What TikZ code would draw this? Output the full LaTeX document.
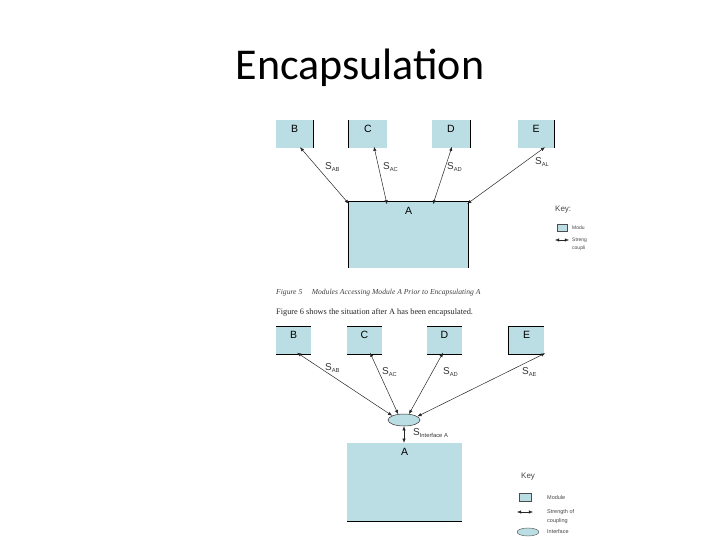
\documentclass[tikz,border=0pt]{standalone}
\usepackage{fontspec}
\setmainfont{Liberation Sans}
\newfontfamily\titlefont{Carlito}
\newfontfamily\capfont{Liberation Serif}
\usetikzlibrary{arrows.meta,shapes.geometric}
\definecolor{modfill}{RGB}{186,222,227}
\definecolor{keygray}{RGB}{70,70,70}
\newcommand\Ssub[1]{S\raisebox{-1.1pt}{\fontsize{5.8}{6}\selectfont #1}}
\tikzset{
  modbox/.style={rectangle,fill=modfill,inner sep=0pt},
  boxtxt/.style={below,inner sep=0pt,yshift=-5pt,font=\fontsize{10.5}{12}\selectfont},
  edge/.style={line width=0.8pt,black},
  couple/.style={{Latex[length=4.2pt,width=3.4pt]}-{Latex[length=4.2pt,width=3.4pt]},line width=0.5pt,draw=black!85},
  slabel/.style={anchor=west,inner sep=0pt,font=\fontsize{10}{11}\selectfont,text=black!80},
  keytxt/.style={anchor=west,inner sep=0pt,text=keygray},
}
\begin{document}
\begin{tikzpicture}[x=1pt,y=-1pt]
\useasboundingbox (0,0) rectangle (720,540);

% title
\node[inner sep=0pt,font=\titlefont\fontsize{44}{48}\selectfont] (title) at (360,68) {Encapsulation};

% ---------- upper figure ----------
\node[modbox,minimum width=37pt,minimum height=28pt] (B1) at (294.5,134) {};
\node[modbox,minimum width=38pt,minimum height=28pt] (C1) at (368,134) {};
\node[modbox,minimum width=38pt,minimum height=28pt] (D1) at (451,134) {};
\node[modbox,minimum width=36pt,minimum height=28pt] (E1) at (536,134) {};
\node[modbox,minimum width=119pt,minimum height=66pt] (A1) at (408.5,235) {};
\node[boxtxt] (tB1) at (B1.north) {B};
\node[boxtxt] (tC1) at (C1.north) {C};
\node[boxtxt] (tD1) at (D1.north) {D};
\node[boxtxt] (tE1) at (E1.north) {E};
\node[boxtxt] (tA1) at (A1.north) {A};
\draw[edge] (B1.north east) -- (B1.south east);
\draw[edge] (C1.north west) -- (C1.south west);
\draw[edge] (D1.north east) -- (D1.south east);
\draw[edge] (E1.north east) -- (E1.south east);
\draw[edge] (A1.south west) -- (A1.north west) -- (A1.north east) -- (A1.south east);

\draw[couple] ([xshift=5.5pt,yshift=1pt]B1.south) -- ([yshift=-2pt]A1.north west);
\draw[couple] ([xshift=6pt,yshift=1.5pt]C1.south) -- ([xshift=-21.5pt,yshift=-2.5pt]A1.north);
\draw[couple] ([xshift=1pt,yshift=1.5pt]D1.south) -- ([xshift=24.5pt,yshift=-2.5pt]A1.north);
\draw[couple] ([xshift=9pt,yshift=1pt]E1.south) -- ([xshift=-1pt,yshift=-2pt]A1.north east);

\node[slabel] (sab1) at (325,167) {\Ssub{AB}};
\node[slabel] (sac1) at (383,167) {\Ssub{AC}};
\node[slabel] (sad1) at (447,167) {\Ssub{AD}};
\node[slabel] (sal1) at (535,162) {\Ssub{AL}};

% key 1
\node[keytxt,font=\fontsize{8}{9}\selectfont] (key1) at (555,210) {Key:};
\node[modbox,draw=black!70,line width=0.4pt,minimum width=10pt,minimum height=7pt] (kb1) at (562,228) {};
\node[keytxt,font=\fontsize{5}{6}\selectfont] (km1) at (572,228) {Modu};
\coordinate (ka1) at (555,240);
\coordinate (kb1e) at (569,240);
\draw[couple] (ka1) -- (kb1e);
\node[keytxt,font=\fontsize{5}{6}\selectfont] (ks1) at (572,240) {Streng};
\node[keytxt,font=\fontsize{5}{6}\selectfont] (kc1) at (572,248) {coupli};

% captions
\node[anchor=west,inner sep=0pt,font=\capfont\itshape\fontsize{7.6}{8}\selectfont,text=black!75] (cap5) at (276,293)
  {Figure 5\quad\ Modules Accessing Module A Prior to Encapsulating A};
\node[anchor=west,inner sep=0pt,font=\capfont\fontsize{8.3}{9}\selectfont,text=black!85] (cap6) at (276,312)
  {Figure 6 shows the situation after A has been encapsulated.};

% ---------- lower figure ----------
\node[modbox,minimum width=35pt,minimum height=27pt] (B2) at (293.5,340.5) {};
\node[modbox,minimum width=35pt,minimum height=27pt] (C2) at (364.5,340.5) {};
\node[modbox,minimum width=35pt,minimum height=27pt] (D2) at (444.5,340.5) {};
\node[modbox,minimum width=35pt,minimum height=27pt] (E2) at (526.5,340.5) {};
\node[modbox,minimum width=115pt,minimum height=78pt] (A2) at (404.5,482) {};
\node[ellipse,fill=modfill,draw=black!80,line width=0.5pt,minimum width=32pt,minimum height=12pt,inner sep=0pt] (I) at (404,420) {};
\node[boxtxt,yshift=1pt] (tB2) at (B2.north) {B};
\node[boxtxt,yshift=1pt] (tC2) at (C2.north) {C};
\node[boxtxt,yshift=1pt] (tD2) at (D2.north) {D};
\node[boxtxt,yshift=1pt] (tE2) at (E2.north) {E};
\node[boxtxt] (tA2) at (A2.north) {A};
\foreach \b in {B2,C2,D2} {
  \draw[edge] (\b.north west) -- (\b.north east);
  \draw[edge] (\b.south west) -- (\b.south east);
}
\draw[edge] (E2.north east) -- (E2.north west) -- (E2.south west) -- (E2.south east);
\draw[edge] (A2.south west) -- (A2.south east);

\draw[couple] ([xshift=3.5pt,yshift=1.5pt]B2.south) -- (I.160);
\draw[couple] ([xshift=5.5pt,yshift=1.5pt]C2.south) -- (I.135);
\draw[couple] ([xshift=-1.5pt,yshift=1.5pt]D2.south) -- (I.50);
\draw[couple] ([xshift=1pt,yshift=1pt]E2.south east) -- (I.15);
\draw[couple] (I.south) -- (A2.north -| I.south);

\node[slabel] (sab2) at (325,368) {\Ssub{AB}};
\node[slabel] (sac2) at (382,372) {\Ssub{AC}};
\node[slabel] (sad2) at (443,372) {\Ssub{AD}};
\node[slabel] (sae2) at (522,372) {\Ssub{AE}};
\node[slabel] (sint) at (413,433) {\Ssub{Interface A}};

% key 2
\node[keytxt,font=\fontsize{8}{9}\selectfont] (key2) at (521,477) {Key};
\node[modbox,draw=black!70,line width=0.4pt,minimum width=12pt,minimum height=8pt] (kb2) at (525.5,497) {};
\node[keytxt,font=\fontsize{5.5}{6}\selectfont] (km2) at (547,498) {Module};
\coordinate (ka2) at (517,512);
\coordinate (ka2e) at (533,512);
\draw[couple] (ka2) -- (ka2e);
\node[keytxt,font=\fontsize{5.5}{6}\selectfont] (ks2) at (547,512) {Strength of};
\node[keytxt,font=\fontsize{5.5}{6}\selectfont] (kc2) at (547,521) {coupling};
\node[ellipse,fill=modfill,draw=black!70,line width=0.4pt,minimum width=22pt,minimum height=8pt,inner sep=0pt] (ke2) at (528,532) {};
\node[keytxt,font=\fontsize{5.5}{6}\selectfont] (ki2) at (547,532) {Interface};
\end{tikzpicture}
\end{document}
